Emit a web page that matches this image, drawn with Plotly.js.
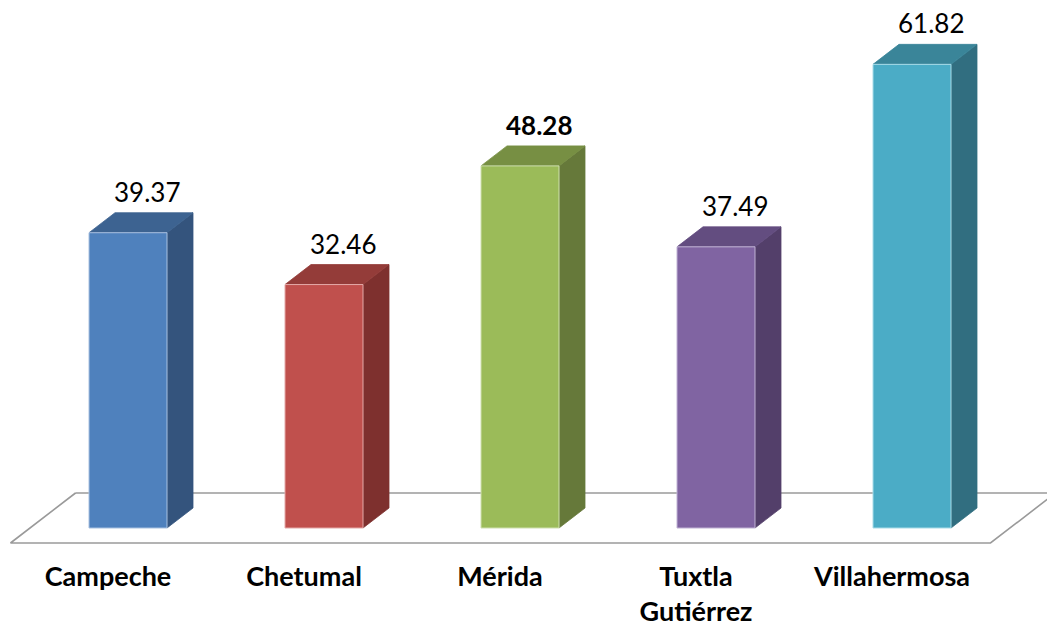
<!DOCTYPE html>
<html>
<head>
<meta charset="utf-8">
<script src="https://cdn.plot.ly/plotly-3.0.1.min.js"></script>
<style>html,body{margin:0;padding:0;background:#fff;}#chart{width:1047px;height:629px;}</style>
</head>
<body>
<div id="chart"></div>
<script>
// ---- data ----
const categories = ["Campeche", "Chetumal", "Mérida", "Tuxtla Gutiérrez", "Villahermosa"];
const tickLabels = ["Campeche", "Chetumal", "Mérida", "Tuxtla<br>Gutiérrez", "Villahermosa"];
const values = [39.37, 32.46, 48.28, 37.49, 61.82];
const labelTexts = ["39.37", "32.46", "48.28", "37.49", "61.82"];
const boldLabel = [false, false, true, false, false];

// ---- styles ----
const frontColors = ["#4F81BD", "#C0504D", "#9BBB59", "#8064A2", "#4BACC6"];
const topColors   = ["#3D6391", "#943C39", "#778F43", "#634D80", "#3A8599"];
const sideColors  = ["#34547D", "#7E302E", "#66793A", "#533F6A", "#316E80"];
const edgeColors  = ["#A9C1E0", "#E4A9A8", "#CFE0B0", "#C0B2D4", "#A9DCE8"];

// geometry (axis units): px per unit x = 196, px per unit y = 7.5
const W = 0.398;          // bar front width
const DX = 26 / 196;      // depth offset x
const DY = 20 / 7.5;      // depth offset y

const traces = [];
const n = categories.length;

// floor (parallelogram outline)
const f0 = -0.75, f1 = 1.75;
const xl = -0.5, xr = n - 0.5;
traces.push({
  type: "scatter", mode: "lines", hoverinfo: "skip", showlegend: false,
  x: [xl + f1 * DX, xl + f0 * DX, xr + f0 * DX, xr + f1 * DX, xl + f1 * DX],
  y: [f1 * DY, f0 * DY, f0 * DY, f1 * DY, f1 * DY],
  line: { color: "#9A9A9A", width: 1.6 },
  fill: "toself", fillcolor: "rgba(255,255,255,0)"
});

for (let i = 0; i < n; i++) {
  const v = values[i];
  const L = i - W / 2, R = i + W / 2;
  // side face
  traces.push({
    type: "scatter", mode: "lines", hoverinfo: "skip", showlegend: false,
    x: [R, R, R + DX, R + DX, R], y: [0, v, v + DY, DY, 0],
    fill: "toself", fillcolor: sideColors[i], line: { color: sideColors[i], width: 0.8 }
  });
  // top face
  traces.push({
    type: "scatter", mode: "lines", hoverinfo: "skip", showlegend: false,
    x: [L, R, R + DX, L + DX, L], y: [v, v, v + DY, v + DY, v],
    fill: "toself", fillcolor: topColors[i], line: { color: topColors[i], width: 0.8 }
  });
  // front face
  traces.push({
    type: "scatter", mode: "lines", hoverinfo: "skip", showlegend: false,
    x: [L, R, R, L, L], y: [0, 0, v, v, 0],
    fill: "toself", fillcolor: frontColors[i], line: { color: edgeColors[i], width: 1 }
  });
}

const annotations = values.map((v, i) => ({
  x: i, y: v + DY, xref: "x", yref: "y",
  text: boldLabel[i] ? "<b>" + labelTexts[i] + "</b>" : labelTexts[i],
  showarrow: false, xanchor: "center", yanchor: "middle",
  xshift: 19, yshift: 21,
  font: { family: "Lato, 'Open Sans', sans-serif", size: 26, color: "#000" }
}));

const layout = {
  width: 1047, height: 629,
  margin: { l: 0, r: 0, t: 0, b: 81 },
  paper_bgcolor: "#fff", plot_bgcolor: "#fff",
  showlegend: false,
  xaxis: {
    range: [-128 / 196, (1047 - 128) / 196],
    tickvals: categories.map((c, i) => i),
    ticktext: tickLabels,
    ticks: "", showgrid: false, zeroline: false, showline: false,
    ticklabelshift: -20, ticklabelstandoff: 10,
    tickfont: { family: "Lato, 'Open Sans', sans-serif", size: 27, color: "#000", weight: "bold" },
    fixedrange: true
  },
  yaxis: {
    range: [-20 / 7.5, 528 / 7.5],
    showticklabels: false, ticks: "", showgrid: false, zeroline: false, showline: false,
    fixedrange: true
  },
  annotations: annotations
};

Plotly.newPlot("chart", traces, layout, { displayModeBar: false, staticPlot: true });
</script>
</body>
</html>
